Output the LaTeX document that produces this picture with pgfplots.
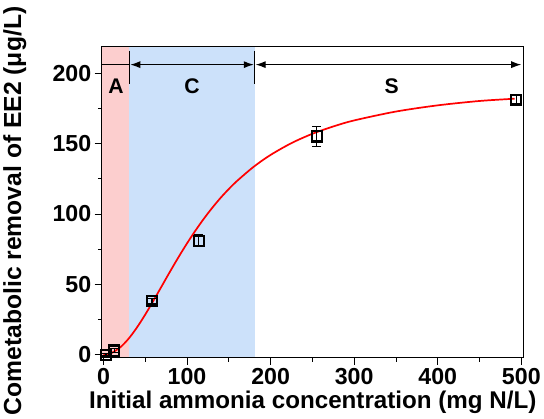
\documentclass[border=0pt]{standalone}
\usepackage{fontspec}
\setmainfont{Liberation Sans}
\usepackage{pgfplots}
\pgfplotsset{compat=1.18}
\usetikzlibrary{arrows.meta}

\definecolor{regA}{RGB}{252,206,206}
\definecolor{regC}{RGB}{204,225,250}

\begin{document}
\begin{tikzpicture}
\begin{axis}[
    scale only axis,
    width=419pt,
    height=309pt,
    xmin=-2, xmax=503,
    ymin=-2, ymax=219,
    axis on top,
    xtick={0,100,200,300,400,500},
    ytick={0,50,100,150,200},
    minor x tick num=1,
    minor y tick num=1,
    tick align=outside,
    xtick pos=left,
    ytick pos=left,
    major tick length=7pt,
    minor tick length=4pt,
    tick style={black, line width=0.8pt},
    axis line style={black, line width=0.8pt},
    /pgf/number format/assume math mode=true,
    ticklabel style={font=\bfseries\fontsize{23}{25}\selectfont},
    label style={font=\bfseries\fontsize{24}{26}\selectfont},
    xlabel={Initial ammonia concentration (mg N/L)},
    ylabel={Cometabolic removal of EE2 (μg/L)},
    xlabel style={yshift=1pt},
    ylabel style={yshift=19pt, xshift=-9pt, font=\bfseries\fontsize{24.5}{26}\selectfont},
    clip=false
]

% shaded regions
\addplot[draw=none, fill=regA] coordinates {(-2,-2) (31,-2) (31,219) (-2,219)} -- cycle;
\addplot[draw=none, fill=regC] coordinates {(31,-2) (181,-2) (181,219) (31,219)} -- cycle;

% fitted curve
\addplot[red, line width=1.7pt, smooth] coordinates {
(0,0) (5,0.33) (10,1.33) (20,5.22) (30,11.35) (40,19.3) (50,28.55)
(60,38.6) (70,49.0) (80,59.4) (90,69.5) (100,79.1) (110,88.1)
(120,96.5) (130,104.2) (140,111.3) (150,117.7) (160,123.5)
(180,133.6) (200,141.9) (225,150.3) (250,156.9) (275,162.1)
(300,166.4) (350,172.7) (400,177.1) (450,180.2) (492,181.8)
};

% measured data
\addplot[
    only marks,
    mark=square,
    mark size=5pt,
    mark options={black, line width=2pt, fill=white},
    error bars/.cd,
    y dir=both, y explicit,
    error bar style={black, line width=1.4pt},
    error mark options={rotate=90, black, line width=1.4pt, mark size=4.5pt}
] coordinates {
(3,0) +- (0,1)
(13,3) +- (0,1.5)
(58,38) +- (0,2)
(114,81) +- (0,4)
(255,155) +- (0,7)
(494,181) +- (0,3)
};

% region arrows
\draw[black, line width=1.2pt] (axis cs:-2,206) -- (axis cs:31,206);
\draw[black, line width=1.2pt] (axis cs:31,216) -- (axis cs:31,192);
\draw[black, line width=1.2pt] (axis cs:181,216) -- (axis cs:181,192);
\draw[black, line width=1.2pt, {Latex[length=10pt,width=7pt]}-{Latex[length=10pt,width=7pt]}]
  (axis cs:32,206) -- (axis cs:180,206);
\draw[black, line width=1.2pt, {Latex[length=10pt,width=7pt]}-{Latex[length=10pt,width=7pt]}]
  (axis cs:182,206) -- (axis cs:500,206);

\node[font=\bfseries\fontsize{21}{24}\selectfont] at (axis cs:15,191) {A};
\node[font=\bfseries\fontsize{21}{24}\selectfont] at (axis cs:106,191) {C};
\node[font=\bfseries\fontsize{21}{24}\selectfont] at (axis cs:345,191) {S};

\end{axis}
% white space above the axis, as in the reference
\path ([yshift=46pt]current axis.north);
\end{tikzpicture}
\end{document}
